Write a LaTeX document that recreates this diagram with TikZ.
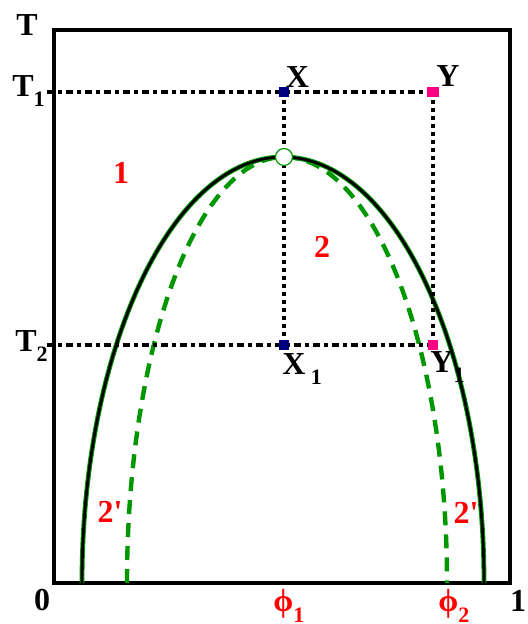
\documentclass[tikz,border=0pt]{standalone}
\usepackage{fontspec}
\setmainfont{Liberation Serif}
\usetikzlibrary{positioning}
\usepackage{xcolor}
\definecolor{binodal}{RGB}{0,150,0}
\definecolor{navyblue}{RGB}{0,0,128}
\definecolor{hotpink}{RGB}{255,0,128}
\newcommand{\lowidx}[1]{\raisebox{-5pt}{\fontsize{11}{12}\selectfont #1}}

\begin{document}
\begin{tikzpicture}[x=0.5pt, y=0.5pt,
    lbl/.style={font=\fontsize{16}{19}\selectfont\bfseries, inner sep=0pt},
    region/.style={lbl, text=red},
    tie/.style={line width=1.8pt, dash pattern=on 3.5pt off 2.2pt on 1.6pt off 2.2pt},
    drop/.style={line width=1.8pt, dash pattern=on 1.8pt off 2.2pt},
    sqr/.style={minimum size=5pt, inner sep=0pt, fill=#1}]
    \useasboundingbox (0,0) rectangle (528,624);

    % frame
    \draw[line width=1.8pt] (54,594) -- (54,41) coordinate (o) -- (510,41) -- (510,594) -- cycle;

    % points
    \coordinate (t1) at (47,532);
    \coordinate (t2) at (47,279);
    \coordinate (X) at (284,532);
    \coordinate (Y) at (433,532);
    \coordinate (X1) at (284,279);
    \coordinate (Y1) at (433,279);
    \coordinate (crit) at (284,467);

    % spinodal
    \draw[binodal, line width=2.2pt, dash pattern=on 7pt off 4.5pt]
        (127,41) arc[start angle=180, end angle=90, x radius=157, y radius=426]
        arc[start angle=90, end angle=0, x radius=163, y radius=426];
    % binodal
    \draw[binodal, line width=2.4pt] (82,41) arc[start angle=180, end angle=0, x radius=201, y radius=426];
    \draw[line width=1.4pt] (82,41) arc[start angle=180, end angle=0, x radius=201, y radius=426];

    % tie lines
    \draw[tie] (t1) -- (Y);
    \draw[tie] (t2) -- (Y1);
    \draw[drop] (X) -- (X1);
    \draw[drop] (Y) -- (Y1);

    \node[circle, draw=binodal, fill=white, line width=0.6pt, minimum size=8.5pt, inner sep=0pt] (c) at (crit) {};
    \node[sqr=navyblue] (x) at (X) {};
    \node[sqr=hotpink, minimum width=6pt] (y) at (Y) {};
    \node[sqr=navyblue] (x1) at (X1) {};
    \node[sqr=hotpink] (y1) at (Y1) {};

    % labels
    \node[lbl] (T) at (27,598.5) {T};
    \node[lbl, anchor=base west] (T1) at (12,527) {T\lowidx{1}};
    \node[lbl, anchor=base west] (T2) at (15,272) {T\lowidx{2}};
    \node[lbl] (xl) at (297.5,546.5) {X};
    \node[lbl] (yl) at (448,547.5) {Y};
    \node[lbl, anchor=base west] (x1l) at (282,249) {X\,\lowidx{1}};
    \node[lbl, anchor=base west] (y1l) at (430,251) {Y\lowidx{1}};
    \node[lbl] (zero) at (42,24) {0};
    \node[lbl] (one) at (518,23) {1};
    \node[region, anchor=base west] (phi1) at (273,12) {ϕ\lowidx{1}};
    \node[region, anchor=base west] (phi2) at (438,12) {ϕ\lowidx{2}};
    \node[region] (r1) at (121,451.5) {1};
    \node[region] (r2) at (322,377.5) {2};
    \node[region] (r2l) at (110,112) {2\textquotesingle};
    \node[region] (r2r) at (466,111) {2\textquotesingle};
\end{tikzpicture}
\end{document}
